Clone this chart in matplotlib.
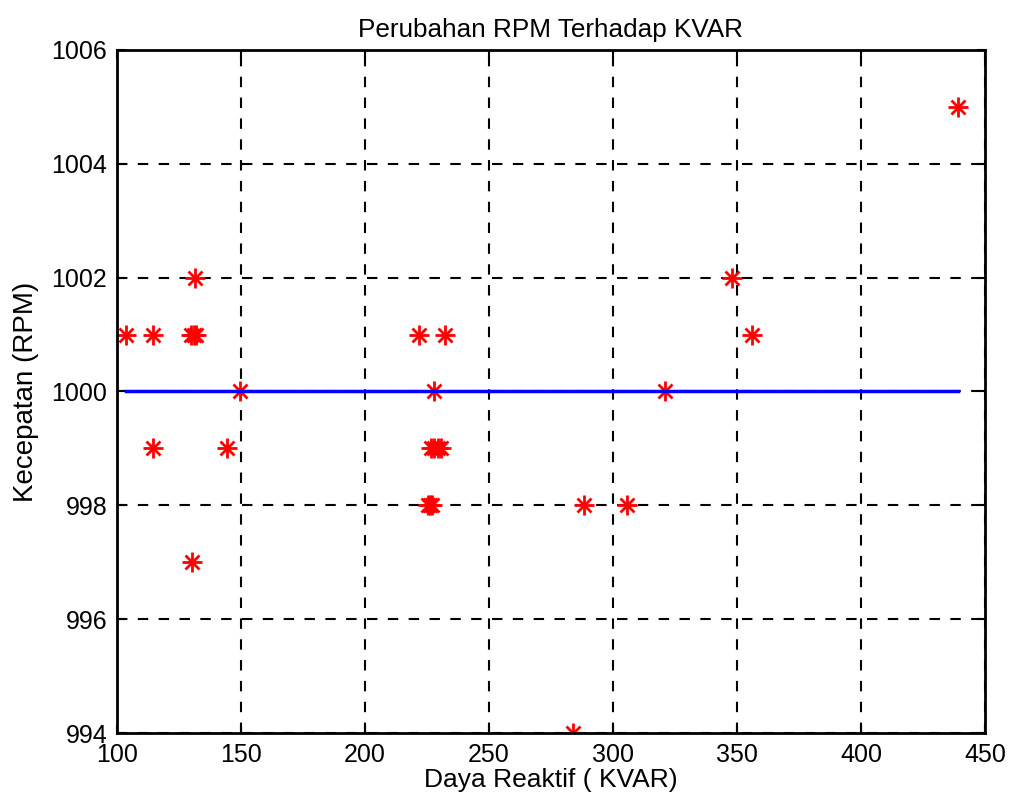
import numpy as np
import matplotlib
matplotlib.use("Agg")
import matplotlib.pyplot as plt

plt.rcParams['font.family'] = ['Liberation Sans', 'DejaVu Sans']

# data
kvar = [103.6, 114.5, 114.5, 130.0, 131.0, 132.0, 131.5, 130.1, 144.5, 149.6,
        221.8, 232.3, 228.0, 226.6, 228.0, 229.5, 230.6, 225.4, 226.2, 227.0,
        288.3, 305.6, 284.0, 321.0, 348.0, 356.0, 439.0]
rpm = [1001, 1001, 999, 1001, 1001, 1001, 1002, 997, 999, 1000,
       1001, 1001, 1000, 999, 999, 999, 999, 998, 998, 998,
       998, 998, 994, 1000, 1002, 1001, 1005]
ref_x = [min(kvar), max(kvar)]
ref_y = [1000, 1000]

xticks = [100, 150, 200, 250, 300, 350, 400, 450]
yticks = [994, 996, 998, 1000, 1002, 1004, 1006]

fig = plt.figure(figsize=(10.12, 8.08), dpi=100)
ax = fig.add_axes([0.1156, 0.0928, 0.8577, 0.8454])

# MATLAB-style asterisk: plus and cross on top of each other
ax.plot(kvar, rpm, '+', color='red', markersize=14, markeredgewidth=2)
ax.plot(kvar, rpm, 'x', color='red', markersize=10.5, markeredgewidth=2)
ax.plot(ref_x, ref_y, '-', color='blue', linewidth=2.5)

ax.set_xlim(100, 450)
ax.set_ylim(994, 1006)
ax.set_xticks(xticks)
ax.set_yticks(yticks)
ax.grid(True, linestyle=(0, (5, 5)), color='black', linewidth=1.5)
ax.tick_params(direction='in', top=True, right=True, labelsize=18,
               length=6, width=1.5, pad=7)
for s in ax.spines.values():
    s.set_linewidth(2)

ax.set_title('Perubahan RPM Terhadap KVAR', fontsize=18.8, pad=9)
ax.set_xlabel('Daya Reaktif ( KVAR)', fontsize=19, labelpad=1)
ax.set_ylabel('Kecepatan (RPM)', fontsize=20, labelpad=9)

fig.savefig('out.png', dpi=100)
